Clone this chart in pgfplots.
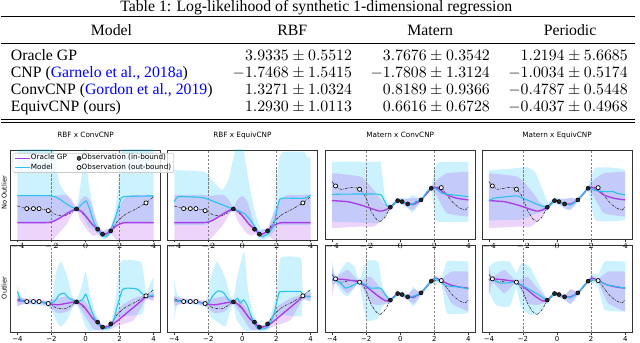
\documentclass[border=0pt]{standalone}
\usepackage{fontspec}
\setmainfont{Liberation Serif}
\newfontfamily\dv{DejaVu Sans}
\usepackage{xcolor}
\usepackage{pgfplots}
\usepackage{pgfplotstable}
\usepgfplotslibrary{fillbetween}
\pgfplotsset{compat=1.18}

\definecolor{purp}{RGB}{170,60,235}
\definecolor{cyn}{RGB}{40,195,240}
\definecolor{cynband}{RGB}{0,191,255}

\pgfplotsset{
  panel/.style={scale only axis, width=94.95pt, xmin=-4.4, xmax=4.4, ymin=0,
    anchor=north west, axis line style={black!80, line width=0.5pt},
    ytick=\empty, xtick={-4,-2,0,2,4}, xtick pos=left, tick align=outside,
    major tick length=1.3pt, tick style={black!80, line width=0.4pt},
    xticklabel style={font=\dv\fontsize{4.4}{5}\selectfont, inner sep=0.5pt},
    title style={font=\dv\fontsize{4.6}{5}\selectfont, at={(0.5,1)}, anchor=base, yshift=1.9pt, inner sep=0pt}},
  toprow/.style={height=56.97pt, ymax=90, xticklabel={}},
  botrow/.style={height=55.7pt, ymax=88, xticklabels={−4,−2,0,2,4}},
  orline/.style={color=purp, line width=0.85pt, smooth, tension=0.35},
  modline/.style={color=cyn, line width=0.7pt, smooth, tension=0.35},
  gtline/.style={color=black!80, line width=0.4pt, dash pattern=on 1.6pt off 0.7pt on 0.4pt off 0.7pt, smooth, tension=0.35},
  inmark/.style={only marks, mark=*, mark size=1.3pt, mark options={draw=black, fill=black!85, line width=0.3pt}},
  outmark/.style={only marks, mark=*, mark size=1.3pt, mark options={draw=black, fill=white, line width=0.45pt}},
}

% shared RBF data (y in pixels above the axis bottom)
\pgfplotstableread{
x y
-4.0 34
-3.45 31.3
-3.06 31.3
-2.73 31.3
-2.19 29.3
-1.71 25
-1.23 24
-0.84 27.3
-0.53 31
-0.07 25
0.32 16.7
0.71 10.7
1.0 5.7
1.25 6
1.48 9
1.86 18.3
2.35 25.7
2.93 30.7
3.55 37
4.0 43.3
}\gtR
\pgfplotstableread{
x y
-0.53 31
0.71 10.7
1.0 5.7
1.48 9
}\inR
\pgfplotstableread{
x y
-3.45 31.3
-3.06 31.3
-2.73 31.3
-2.19 29.3
3.55 37
}\outR
\pgfplotstableread{
x y
-4 17.3
-2.3 17.3
-1.9 18.5
-1.5 22
-1.0 27.5
-0.53 31
-0.2 28
0.1 22
0.4 15.5
0.71 10.7
1.0 6
1.25 6.5
1.48 9
1.8 14
2.2 17
2.6 17.3
4 17.3
}\orRt
\pgfplotstableread{
x lo up
-4 -17 45
-2.3 -17 45
-1.9 0 44
-1.5 8 45
-1.1 16 45
-0.8 25 40
-0.53 29.3 32.7
-0.3 20 40
0.0 12 44
0.3 6 38
0.55 4 24
0.71 6 15
1.0 3 9
1.25 2 11
1.48 6 12
1.8 0 25
2.2 -8 40
2.7 -17 45
4 -17 45
}\obRt
\pgfplotstableread{
x y
-4 32.3
-3.45 31.3
-3.06 31.3
-2.73 31.3
-2.19 29.3
-1.65 28
-1.06 29.7
-0.53 31
-0.09 26.3
0.4 14.7
0.71 10
1.0 5.7
1.48 7
2.06 14.7
2.64 23
3.23 31.3
3.55 36
4 36.3
}\orRb
\pgfplotstableread{
x lo up
-4 27 37
-3.45 29 34
-2.73 29 34
-2.19 26.5 32
-1.65 19.7 34.7
-1.06 21.3 36.3
-0.53 29 33
-0.09 18 33
0.5 3 18
1.0 3 8
1.48 3.7 9.7
2.06 8 26.3
2.84 13 34.7
3.55 33.7 38
4 31.3 41.3
}\obRb

% shared Matern data
\pgfplotstableread{
x y
-4.0 58.3
-3.8 54
-3.5 50.7
-3.11 51.7
-2.72 52.7
-2.39 50.7
-2.04 43.3
-1.75 30
-1.45 21.7
-1.2 18.3
-0.87 23.3
-0.58 32.7
-0.15 39.3
0.11 38.3
0.44 36
0.79 35
1.22 40
1.57 46.7
1.82 51.7
2.16 52.7
2.41 52.3
2.74 45
3.13 36.7
3.52 31.7
3.81 30
4.0 32.7
}\gtM
\pgfplotstableread{
x y
-0.58 32.7
-0.15 39.3
0.11 38.3
0.44 36
1.22 40
1.82 51.7
}\inM
\pgfplotstableread{
x y
-3.8 54
-2.39 50.7
2.41 52.3
}\outM
\pgfplotstableread{
x y
-4 39.3
-3.11 38.3
-2.33 35
-1.75 31.7
-1.26 29
-0.97 29.3
-0.58 32.7
-0.15 39.3
0.11 38.3
0.44 36
0.79 36
1.22 40
1.57 46.7
1.82 51.7
2.06 52.7
2.35 50
2.74 45
3.33 41.7
4.0 40
}\orMt
\pgfplotstableread{
x lo up
-4 11.7 66.7
-2.33 13.3 63.3
-1.55 13.3 50
-0.97 21.7 36.7
-0.58 31.3 34
-0.15 37.7 41
0.11 36.5 40.5
0.44 32 41
0.75 30 42
1.22 38.3 41.7
1.82 50 53.3
2.16 43.3 60
2.74 26.7 66.7
4 23.3 68.3
}\obMt
\pgfplotstableread{
x y
-4 53
-3.8 54
-3.11 53
-2.39 50.7
-1.75 43
-1.26 36.3
-0.85 32
-0.58 32.7
-0.15 39.3
0.11 38.3
0.44 36
0.79 36
1.22 40
1.57 46.7
1.82 51.7
2.06 54.7
2.41 52.3
2.94 48
3.52 45.7
4 44.7
}\orMb
\pgfplotstableread{
x lo up
-4 36.3 66.3
-3.8 50.3 56
-3.1 39.7 63
-2.39 49.7 52
-1.75 29.7 56.3
-1.16 28 44.7
-0.58 31 34.5
-0.15 37.5 41
0.44 33 38.5
0.8 29 44
1.22 38 41.5
1.82 50 53.5
2.1 52 57
2.41 50.5 54
3.0 29.7 61.3
4 21.3 61.3
}\obMb

% model predictions, one mean and one band per panel
\pgfplotstableread{
x y
-4 44.3
-2.2 44.3
-1.81 43.3
-1.4 39.5
-1.03 35
-0.53 31
-0.26 35
0.03 39
0.22 31.7
0.51 16.7
0.8 8.3
1.0 4
1.29 4
1.48 10
1.77 23.3
2.06 40
2.25 43.3
4 44
}\mA
\pgfplotstableread{
x lo up
-4 16.7 130
-2.19 16.7 130
-1.9 18.3 90
-1.52 21.7 56.7
-1.03 26.7 43.3
-0.53 28.7 33.3
-0.26 26.7 60
-0.04 20 100
0.16 13.3 60
0.51 10 26.7
0.8 4 13.3
1.1 0 8.3
1.48 6.7 13.3
1.77 13.3 33.3
2.06 16.7 76.7
2.25 16.7 130
4 16.7 130
}\bA
\pgfplotstableread{
x y
-4 38.3
-3.77 43.3
-3.0 43
-2.3 42.3
-1.41 36.7
-0.56 31
-0.2 29
0.15 26
0.46 20
0.86 10
1.15 3.3
1.55 6.7
1.84 15
2.14 38.3
2.33 41.7
3.62 41.7
4.0 45
}\mB
\pgfplotstableread{
x lo up
-4 15 70
-2.2 15 68
-1.8 18.3 60
-1.2 25 50
-0.82 27 60
-0.42 29 90
-0.13 25 100
0.07 22 90
0.36 18 60
0.7 10 30
1.05 0 12
1.55 2 12
1.84 8 30
2.0 13 55
2.14 15 80
2.4 15 88
3.62 15 88
3.8 15 83
4 15 82
}\bB
\pgfplotstableread{
x y
-4 45
-3.7 45.7
-1.26 45.7
-0.97 40
-0.77 34
-0.58 32.7
-0.15 39.3
0.11 38.3
0.44 36
0.69 35
0.89 38.3
1.22 40
1.57 48.3
1.82 51.7
2.06 51.7
2.45 46.7
3.13 45
4 43.3
}\mC
\pgfplotstableread{
x lo up
-4 18.3 78.3
-1.3 16.7 78.3
-1.15 20 78
-0.9 22 43.3
-0.58 30.7 35
-0.2 36.7 41.7
0.44 32 41.7
0.7 27 45
0.95 32 43
1.22 38.3 41.7
1.82 49.3 54
2.06 20 73.3
2.3 18 78
4 18 78
}\bC
\pgfplotstableread{
x y
-4 39.3
-3.72 41.7
-2.94 43.3
-2.35 44
-1.77 40
-1.08 35
-0.54 32.7
-0.15 39.3
0.11 38.3
0.44 36
0.77 35
1.22 40
1.82 51.7
2.23 49.3
2.82 48.3
3.31 48.3
3.5 46.7
4 45
}\mD
\pgfplotstableread{
x lo up
-4 19.3 70
-3 20 70.7
-2.3 20 72
-1.8 22 73
-1.3 26 68
-0.85 28 50
-0.54 29 38
-0.15 37 42
0.44 31 41
0.8 30 42
1.22 38 42
1.82 49 54
2.23 20 72
3.5 19 72
4 20 70
}\bD
\pgfplotstableread{
x y
-4 41.3
-3.8 32.3
-3.45 31.3
-2.73 31.3
-2.19 29.3
-1.84 31.3
-1.55 38
-1.26 39.7
-0.97 34.7
-0.53 31
-0.19 33
0.01 38.7
0.2 29.7
0.5 15.7
0.79 8
0.99 4.7
1.28 4.7
1.57 8
1.86 26.3
2.16 43
2.45 44.7
3.03 43.7
3.55 36.3
4 38
}\mE
\pgfplotstableread{
x lo up
-4 26.3 48
-3.7 29 34.7
-2.19 26.3 31.3
-1.94 21.3 36.3
-1.75 13 59.7
-1.46 6.3 71.3
-1.07 13 56.3
-0.78 24.7 36.3
-0.53 29 33
-0.29 19.7 43
0.0 6.3 61.3
0.25 1.3 39.7
0.58 3 19.7
0.99 1.3 8
1.47 3.7 9.7
1.76 13 33
2.06 16.3 71.3
3.23 18 71.3
3.4 23 59.7
3.55 33.7 39.7
3.8 33 49.7
4 33 56.3
}\bE
\pgfplotstableread{
x y
-4 32.3
-3.45 31.3
-2.73 31.3
-2.19 29.3
-2 29.7
-1.7 38
-1.41 42
-1.11 40.3
-0.82 33
-0.53 31
-0.29 34.7
-0.13 29.7
0.07 33
0.31 26.3
0.56 14.7
0.86 4.7
1.15 3.7
1.49 5.7
1.84 18
2.14 39.7
2.33 41.3
3.42 41.3
3.55 37
4 36.3
}\mF
\pgfplotstableread{
x lo up
-4 13 54.7
-3.75 29 36.3
-2.19 26.3 31.3
-1.9 16.3 53
-1.5 11.3 71.3
-1.0 6.3 54.7
-0.7 23 36.3
-0.53 29 33
-0.34 13 53
0.1 3 81.3
0.33 1.3 43
0.66 3 18
1.05 1.3 8
1.49 3 9.7
1.95 14.7 36.3
2.25 18 74.7
3.42 16.3 74.7
3.5 24.7 56.3
3.57 33 39.7
4 31.3 44.7
}\bF
\pgfplotstableread{
x y
-4 53
-3.8 52.3
-3.5 49.7
-3.21 44.7
-2.92 46.3
-2.39 50.7
-2.04 48
-1.75 44.7
-1.16 44.7
-0.87 38
-0.58 32.7
-0.15 39.3
0.11 38.3
0.44 36
0.69 36.3
0.99 38
1.22 40
1.82 51.7
2.06 54.7
2.45 49.7
2.74 47
3.52 45.7
4 43.7
}\mG
\pgfplotstableread{
x lo up
-4 48 71.3
-3.8 49.7 56.3
-3.5 41.3 63
-3.1 36.3 71.3
-2.7 44.7 66.3
-2.39 49 53
-2.0 13 71.3
-1.3 14.7 71.3
-1.05 26.3 46.3
-0.58 30.7 34
-0.15 37 41
0.44 33 38
0.75 26.3 46.3
1.0 31.3 41.3
1.22 37.7 41.3
1.82 49.7 53.7
2.1 48 56.3
2.41 49.7 53
2.75 19.7 71.3
4 19.7 71.3
}\bG
\pgfplotstableread{
x y
-4 52.3
-3.8 54
-3.33 49.7
-2.74 50.3
-2.39 50.7
-1.77 44.7
-1.08 38
-0.58 32.7
-0.15 39.3
0.11 38.3
0.44 36
0.79 35.5
1.22 40
1.82 51.7
2.14 53
2.41 52.3
2.92 48
3.5 46.3
4 44.7
}\mH
\pgfplotstableread{
x lo up
-4 41.3 66.3
-3.6 28 71.3
-2.8 26.3 71.3
-2.39 44.7 59.7
-2.1 24.7 69.7
-1.6 18 66.3
-1.1 19.7 49.7
-0.58 29.7 34.7
-0.15 37 40.7
0.44 33 38
0.8 29 43
1.22 37.7 41.3
1.82 49.7 53.7
2.14 49.7 59.7
2.41 46.3 58
2.8 23 71.3
4 21.3 71.3
}\bH

% #1 model band, #2 oracle band, #3 truth, #4 oracle mean, #5 model mean, #6 in obs, #7 out obs, #8 ymax
\newcommand\drawpanel[8]{%
  \addplot[name path=mu, draw=none, smooth, tension=0.3, forget plot] table[x=x,y=up]{#1};
  \addplot[name path=ml, draw=none, smooth, tension=0.3, forget plot] table[x=x,y=lo]{#1};
  \addplot[fill=cynband, fill opacity=0.2, draw=none, forget plot] fill between[of=mu and ml];
  \addplot[name path=ou, draw=none, smooth, tension=0.3, forget plot] table[x=x,y=up]{#2};
  \addplot[name path=ol, draw=none, smooth, tension=0.3, forget plot] table[x=x,y=lo]{#2};
  \addplot[fill=purp, fill opacity=0.22, draw=none, forget plot] fill between[of=ou and ol];
  \draw[gray, line width=0.4pt, dash pattern=on 1.5pt off 1pt] (axis cs:-2,0) -- (axis cs:-2,#8);
  \draw[gray, line width=0.4pt, dash pattern=on 1.5pt off 1pt] (axis cs:2,0) -- (axis cs:2,#8);
  \addplot[gtline, forget plot] table{#3};
  \addplot[orline, forget plot] table{#4};
  \addplot[modline, forget plot] table{#5};
  \addplot[inmark, forget plot] table{#6};
  \addplot[outmark, forget plot] table{#7};
}

\begin{document}
\fontsize{10}{11}\selectfont
\begin{tikzpicture}
\path (0pt,0pt) rectangle (405.12pt,-215.85pt);

% table
\node[anchor=base, inner sep=0pt] at (200.0pt,-6.96pt) {Table 1: Log-likelihood of synthetic 1-dimensional regression};
\draw[line width=0.8pt] (0pt,-10.57pt) -- (401.96pt,-10.57pt);
\node[anchor=base, inner sep=0pt] at (70.26pt,-22.16pt) {Model};
\node[anchor=base, inner sep=0pt] at (184.84pt,-22.16pt) {RBF};
\node[anchor=base, inner sep=0pt] at (272.19pt,-22.16pt) {Matern};
\node[anchor=base, inner sep=0pt] at (360.81pt,-22.16pt) {Periodic};
\draw[line width=0.5pt] (0pt,-27.4pt) -- (401.96pt,-27.4pt);
\begin{scope}[every node/.style={inner sep=0pt}]
\node[anchor=base west] at (6.33pt,-37.98pt) {Oracle GP};
\node[anchor=base east] at (222.82pt,-37.98pt) {$3.9335 \pm 0.5512$};
\node[anchor=base east] at (310.17pt,-37.98pt) {$3.7676 \pm 0.3542$};
\node[anchor=base east] at (397.52pt,-37.98pt) {$1.2194 \pm 5.6685$};
\node[anchor=base west] at (6.33pt,-48.74pt) {CNP (\textcolor{blue}{Garnelo et al., 2018a})};
\node[anchor=base east] at (222.82pt,-48.74pt) {$-1.7468 \pm 1.5415$};
\node[anchor=base east] at (310.17pt,-48.74pt) {$-1.7808 \pm 1.3124$};
\node[anchor=base east] at (397.52pt,-48.74pt) {$-1.0034 \pm 0.5174$};
\node[anchor=base west] at (6.33pt,-59.5pt) {ConvCNP (\textcolor{blue}{Gordon et al., 2019})};
\node[anchor=base east] at (222.82pt,-59.5pt) {$1.3271 \pm 1.0324$};
\node[anchor=base east] at (310.17pt,-59.5pt) {$0.8189 \pm 0.9366$};
\node[anchor=base east] at (397.52pt,-59.5pt) {$-0.4787 \pm 0.5448$};
\node[anchor=base west] at (6.33pt,-70.26pt) {EquivCNP (ours)};
\node[anchor=base east] at (222.82pt,-70.26pt) {$1.2930 \pm 1.0113$};
\node[anchor=base east] at (310.17pt,-70.26pt) {$0.6616 \pm 0.6728$};
\node[anchor=base east] at (397.52pt,-70.26pt) {$-0.4037 \pm 0.4968$};
\end{scope}
\draw[line width=0.8pt] (0pt,-75.5pt) -- (401.96pt,-75.5pt);
\draw[line width=0.4pt] (0pt,-77.4pt) -- (401.96pt,-77.4pt);

% row labels
\node[rotate=90, font=\dv\fontsize{4.2}{5}\selectfont, inner sep=0pt] at (2.2pt,-122.2pt) {No Outlier};
\node[rotate=90, font=\dv\fontsize{4.2}{5}\selectfont, inner sep=0pt] at (2.2pt,-182.3pt) {Outlier};

% top row
\begin{axis}[panel, toprow, at={(6.33pt,-94.95pt)}, title={RBF x ConvCNP},
  legend columns=2, legend cell align=left,
  legend image code/.code={\draw[mark repeat=2,mark phase=2,#1] plot coordinates {(0pt,0pt)(4.5pt,0pt)(9pt,0pt)};},
  legend style={at={(0.013,0.967)}, anchor=north west, font=\dv\fontsize{4.6}{5}\selectfont,
    draw=black!20, fill=white, fill opacity=0.8, text opacity=1, rounded corners=1pt,
    inner xsep=1.2pt, inner ysep=0.3pt, nodes={inner sep=0.4pt},
    /tikz/every even column/.append style={column sep=6pt}}]
\addlegendimage{orline}\addlegendentry{Oracle GP}
\addlegendimage{inmark}\addlegendentry{Observation (in-bound)}
\addlegendimage{modline}\addlegendentry{Model}
\addlegendimage{outmark}\addlegendentry{Observation (out-bound)}
\drawpanel{\bA}{\obRt}{\gtR}{\orRt}{\mA}{\inR}{\outR}{90}
\end{axis}
\begin{axis}[panel, toprow, at={(105.71pt,-94.95pt)}, title={RBF x EquivCNP}]
\drawpanel{\bB}{\obRt}{\gtR}{\orRt}{\mB}{\inR}{\outR}{90}
\end{axis}
\begin{axis}[panel, toprow, at={(205.73pt,-94.95pt)}, title={Matern x ConvCNP}]
\drawpanel{\bC}{\obMt}{\gtM}{\orMt}{\mC}{\inM}{\outM}{90}
\end{axis}
\begin{axis}[panel, toprow, at={(305.11pt,-94.95pt)}, title={Matern x EquivCNP}]
\drawpanel{\bD}{\obMt}{\gtM}{\orMt}{\mD}{\inM}{\outM}{90}
\end{axis}

% bottom row
\begin{axis}[panel, botrow, at={(6.33pt,-155.09pt)}]
\drawpanel{\bE}{\obRb}{\gtR}{\orRb}{\mE}{\inR}{\outR}{88}
\end{axis}
\begin{axis}[panel, botrow, at={(105.71pt,-155.09pt)}]
\drawpanel{\bF}{\obRb}{\gtR}{\orRb}{\mF}{\inR}{\outR}{88}
\end{axis}
\begin{axis}[panel, botrow, at={(205.73pt,-155.09pt)}]
\drawpanel{\bG}{\obMb}{\gtM}{\orMb}{\mG}{\inM}{\outM}{88}
\end{axis}
\begin{axis}[panel, botrow, at={(305.11pt,-155.09pt)}]
\drawpanel{\bH}{\obMb}{\gtM}{\orMb}{\mH}{\inM}{\outM}{88}
\end{axis}
\end{tikzpicture}
\end{document}
